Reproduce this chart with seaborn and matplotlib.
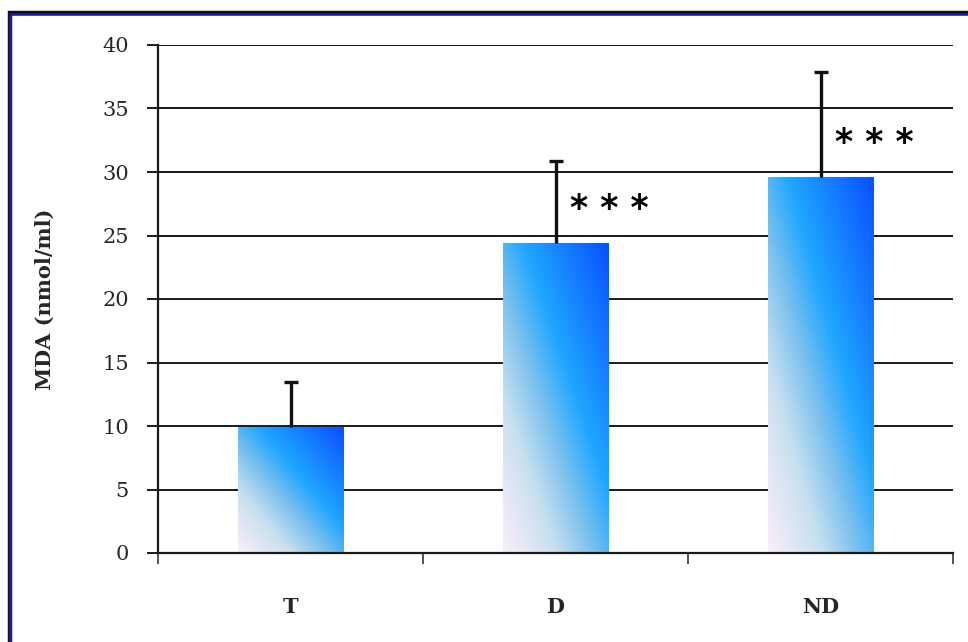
import numpy as np
import pandas as pd
import matplotlib
matplotlib.use("Agg")
import matplotlib.pyplot as plt
from matplotlib.colors import LinearSegmentedColormap
from matplotlib.patches import Rectangle
import seaborn as sns

# MDA levels per group
groups = ["T", "D", "ND"]
mda_mean = [9.9, 24.4, 29.6]
mda_err = [3.6, 6.5, 8.3]
significance = ["", "* * *", "* * *"]
y_ticks = [0, 5, 10, 15, 20, 25, 30, 35, 40]

sns.set_theme(style="white")
plt.rcParams["font.family"] = ["DejaVu Serif", "DejaVu Sans"]

fig = plt.figure(figsize=(9.68, 6.42), dpi=100)
ax = fig.add_axes([158 / 968, 1 - 553 / 642, (953 - 158) / 968, (553 - 45) / 642])

df = pd.DataFrame({"group": groups, "mda": mda_mean})
sns.barplot(data=df, x="group", y="mda", width=0.4, errorbar=None,
            color="#1fa6ff", ax=ax, zorder=2)

# diagonal gradient fill for every bar
grad_cmap = LinearSegmentedColormap.from_list(
    "bar_grad",
    [(0.0, "#fbeefa"), (0.25, "#c8e0f0"), (0.42, "#7cc2ee"),
     (0.6, "#1fa6ff"), (1.0, "#0a50ff")])
n = 256
u, v = np.meshgrid(np.linspace(0, 1, n), np.linspace(0, 1, n))
grad = (u + v) / 2.0
for patch in ax.patches:
    x0, y0 = patch.get_x(), patch.get_y()
    w, h = patch.get_width(), patch.get_height()
    patch.set_facecolor("none")
    patch.set_edgecolor("none")
    im = ax.imshow(grad, cmap=grad_cmap, vmin=0, vmax=1, origin="lower",
                   extent=(x0, x0 + w, y0, y0 + h), aspect="auto",
                   interpolation="bilinear", zorder=2)
    im.set_clip_path(patch)

# upper error bars only
centers = [p.get_x() + p.get_width() / 2 for p in ax.patches]
_, caps, _ = ax.errorbar(centers, mda_mean,
                         yerr=[np.zeros(len(mda_err)), mda_err],
                         fmt="none", ecolor="#111111", elinewidth=2.4,
                         capsize=5, capthick=2.4, zorder=3)
caps[0].set_visible(False)

# significance marks
for c, m, s in zip(centers, mda_mean, significance):
    if s:
        ax.text(c + 0.055, m + 2.65, s, fontsize=25, fontweight="bold",
                family="DejaVu Sans", ha="left", va="center", color="black",
                zorder=4)

ax.set_xlim(-0.5, len(groups) - 0.5)
ax.set_ylim(0, 40)
ax.set_yticks(y_ticks)
ax.set_yticklabels([str(t) for t in y_ticks], fontsize=15)
ax.yaxis.grid(True, color="#1a1a1a", linewidth=1.4)
ax.xaxis.grid(False)
ax.set_axisbelow(True)

# category separators as outward ticks
ax.set_xticks(np.arange(-0.5, len(groups), 1.0), minor=True)
ax.tick_params(axis="x", which="minor", length=8, width=1.2, color="#333333",
               direction="out", bottom=True)
ax.tick_params(axis="x", which="major", length=0, pad=32, labelsize=15)
for lbl in ax.get_xticklabels():
    lbl.set_fontweight("bold")
ax.tick_params(axis="y", which="major", length=8, width=1.4, color="#1a1a1a",
               direction="out", left=True, pad=13)

ax.set_xlabel("")
ax.set_ylabel("MDA (nmol/ml)", fontsize=15, fontweight="bold", labelpad=34)

for side in ["top", "right"]:
    ax.spines[side].set_visible(False)
ax.spines["left"].set_color("#1a1a1a")
ax.spines["left"].set_linewidth(1.6)
ax.spines["left"].set_bounds(0, 40)
ax.spines["bottom"].set_color("#1a1a1a")
ax.spines["bottom"].set_linewidth(1.6)

# chart frame
fig.patches.append(Rectangle((9.5 / 968, -0.05), 1.2, 1.05 - 13.5 / 642,
                             transform=fig.transFigure, fill=False,
                             edgecolor="#111111", linewidth=3.2, zorder=0))
fig.patches.append(Rectangle((10 / 968, -0.05), 1.2, 1.05 - 14 / 642,
                             transform=fig.transFigure, fill=False,
                             edgecolor="#1c1ca8", linewidth=1.8, zorder=1))

fig.savefig("out.png", dpi=100)
